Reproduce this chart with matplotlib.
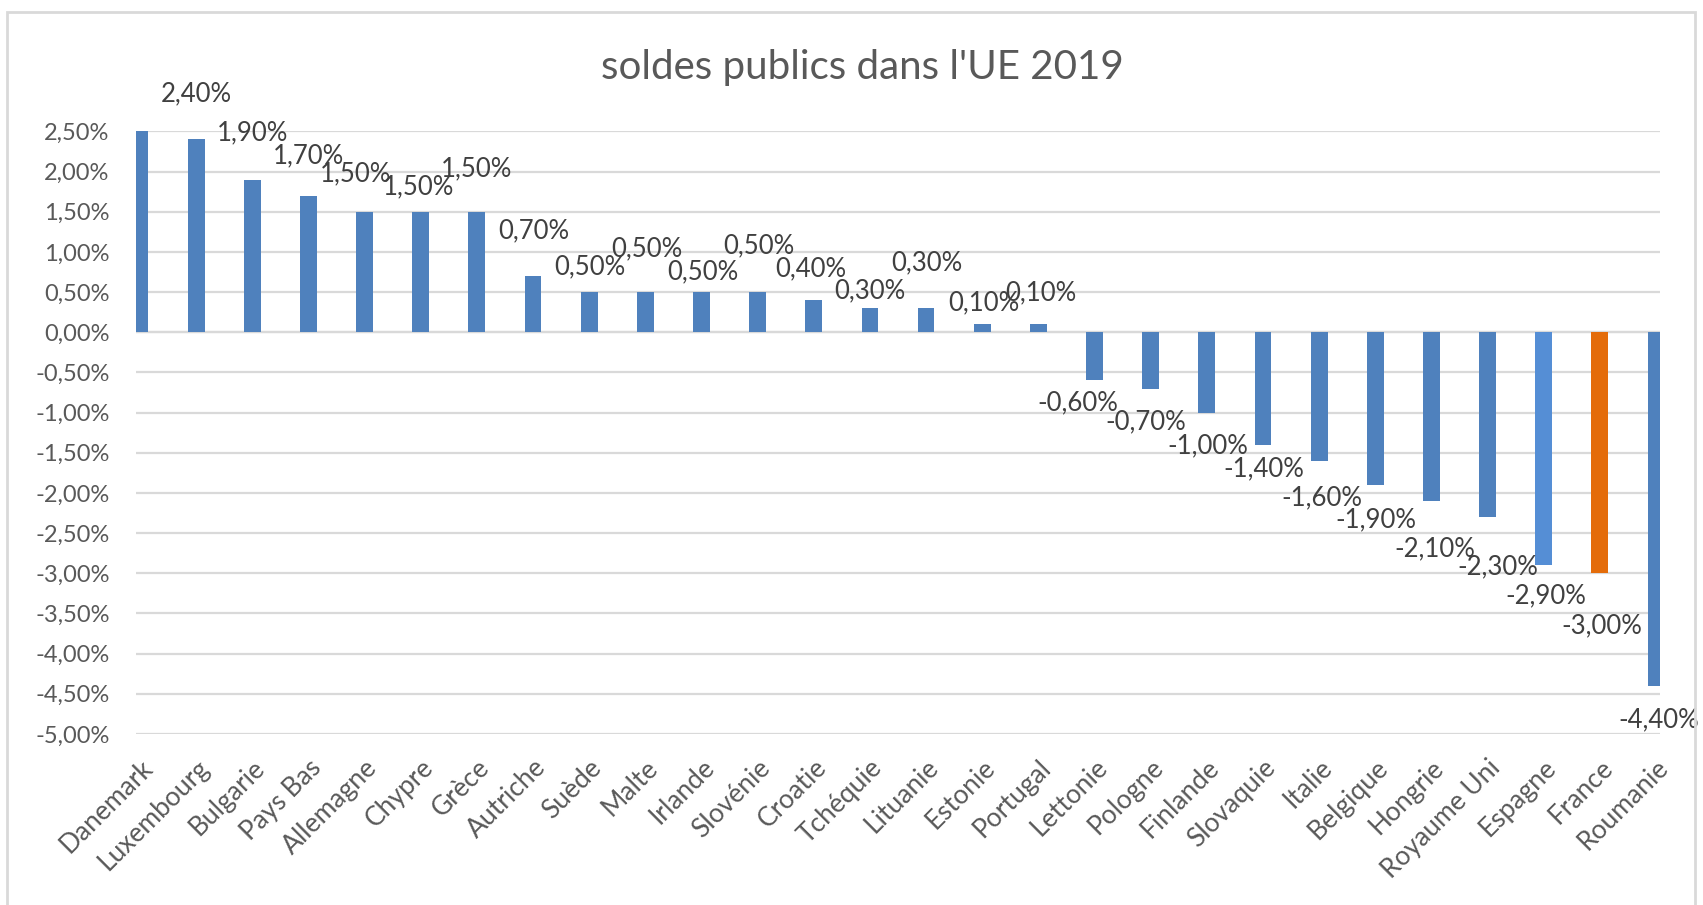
import numpy as np
import matplotlib.pyplot as plt
from matplotlib.patches import Rectangle
from matplotlib.ticker import FuncFormatter

pays = ["Danemark", "Luxembourg", "Bulgarie", "Pays Bas", "Allemagne", "Chypre",
        "Grèce", "Autriche", "Suède", "Malte", "Irlande", "Slovénie", "Croatie",
        "Tchéquie", "Lituanie", "Estonie", "Portugal", "Lettonie", "Pologne",
        "Finlande", "Slovaquie", "Italie", "Belgique", "Hongrie", "Royaume Uni",
        "Espagne", "France", "Roumanie"]
soldes = [3.7, 2.4, 1.9, 1.7, 1.5, 1.5, 1.5, 0.7, 0.5, 0.5, 0.5, 0.5, 0.4,
          0.3, 0.3, 0.1, 0.1, -0.6, -0.7, -1.0, -1.4, -1.6, -1.9, -2.1, -2.3,
          -2.9, -3.0, -4.4]
yticks = np.arange(-5.0, 2.51, 0.5)

# where excel left the data labels (pixels from the bar end)
lab_dx = [0, 0, 0, 0, -9, -2, 0, 1, 1, 2, 1, 1, -3, 0, 1, 2, 2,
          -17, -5, 1, 1, 3, 1, 3, 10, 2, 2, 3]
lab_dy = [0, 46, 47, 40, 38, 25, 43, 45, 25, 43, 20, 46, 31, 17, 45, 21, 31,
          -22, -33, -33, -24, -37, -35, -48, -50, -31, -53, -34]

blue = "#4F81BD"
colors = [blue] * len(pays)
colors[pays.index("Espagne")] = "#558ED5"
colors[pays.index("France")] = "#E46C0A"

plt.rcParams['font.family'] = ['Lato', 'DejaVu Sans']

fig = plt.figure(figsize=(17.03, 9.05), dpi=100)
fig.patches.append(Rectangle((7 / 1703, -0.05), 1688 / 1703, 1.05 - 12 / 905,
                             transform=fig.transFigure, fill=False,
                             edgecolor="#D9D9D9", linewidth=2))
ax = fig.add_axes([136 / 1703, 1 - 734 / 905, 1524 / 1703, 602.6 / 905])

x = np.arange(len(pays))
ax.bar(x, soldes, width=0.3, color=colors, zorder=3)

ax.set_xlim(-0.07, 27.07)
ax.set_ylim(-5.0, 2.5)
ax.set_yticks(yticks)
ax.yaxis.set_major_formatter(FuncFormatter(lambda v, p: ("%.2f%%" % v).replace(".", ",")))
ax.grid(axis="y", color="#D9D9D9", linewidth=1.6, zorder=0)
ax.axhline(0, color="#D9D9D9", linewidth=1.6, zorder=1)
for s in ax.spines.values():
    s.set_visible(False)
ax.tick_params(length=0, colors="#595959")
ax.tick_params(axis="y", pad=19, labelsize=17)
ax.set_xticks(x)
ax.set_xticklabels(pays, rotation=45, ha="right", rotation_mode="anchor")
ax.tick_params(axis="x", pad=15, labelsize=19)

for i, v in enumerate(soldes):
    if v > 2.5:
        continue
    ax.annotate(("%.2f%%" % v).replace(".", ","), (x[i], v),
                xytext=(lab_dx[i], lab_dy[i]), textcoords="offset pixels",
                ha="center", va="center", fontsize=18.5, color="#404040",
                zorder=4)

fig.text(862 / 1703, 1 - 67 / 905, "soldes publics dans l'UE 2019", ha="center",
         va="center", fontsize=29, color="#595959")

fig.savefig("out.png", dpi=100)
